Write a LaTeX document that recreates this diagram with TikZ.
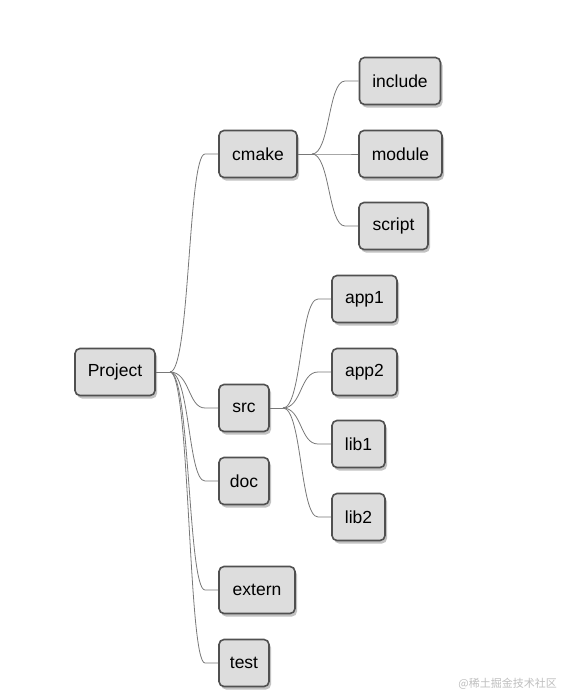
\documentclass[tikz,border=0pt]{standalone}
\usepackage{fontspec}
\setmainfont{Liberation Sans}
\newfontfamily\cjk{Noto Sans CJK SC}
\usetikzlibrary{shadows}
\definecolor{boxfill}{RGB}{221,221,221}
\definecolor{boxline}{RGB}{80,80,80}
\definecolor{edgecol}{RGB}{120,120,120}
\definecolor{wmcol}{RGB}{190,190,190}
\begin{document}
\begin{tikzpicture}[x=1pt,y=-1pt,
  tbox/.style={draw=boxline, line width=1.6pt, fill=boxfill, rounded corners=5pt,
    minimum height=47pt, inner xsep=0pt, inner ysep=0pt, font=\fontsize{17.5}{19}\selectfont,
    drop shadow={shadow xshift=2pt, shadow yshift=-3pt, opacity=0.4, fill=black!60}},
  edge/.style={draw=edgecol, line width=0.8pt}]
\useasboundingbox (0,0) rectangle (562,696);
% nodes
\node[tbox, minimum width=80pt] (project) at (115,372) {Project};
\node[tbox, minimum width=78pt] (cmake) at (258,154) {cmake};
\node[tbox, minimum width=81pt] (include) at (400,81) {include};
\node[tbox, minimum width=83pt] (module) at (400.5,154) {module};
\node[tbox, minimum width=69pt] (script) at (393.5,226) {script};
\node[tbox, minimum width=65pt] (app1) at (364.5,299) {app1};
\node[tbox, minimum width=65pt] (app2) at (364.5,372) {app2};
\node[tbox, minimum width=53pt] (lib1) at (358.5,444) {lib1};
\node[tbox, minimum width=53pt] (lib2) at (358.5,517) {lib2};
\node[tbox, minimum width=50pt] (src) at (244,408) {src};
\node[tbox, minimum width=50pt] (doc) at (244,481) {doc};
\node[tbox, minimum width=76pt] (extern) at (257,590) {extern};
\node[tbox, minimum width=50pt] (test) at (244,663) {test};
% branch points
\coordinate (pj) at (170,372);
\coordinate (cm) at (312,154);
\coordinate (sr) at (283,408);
% edges from Project
\draw[edge] (project.east) -- (pj);
\foreach \c/\y in {cmake/154, src/408, doc/481, extern/590, test/663}{
  \draw[edge] (pj) .. controls (190,372) and (188,\y) .. (205,\y) -- (\c.west);
}
% edges from cmake
\draw[edge] (cmake.east) -- (cm);
\foreach \c/\y in {include/81, module/154, script/226}{
  \draw[edge] (cm) .. controls (330,154) and (328,\y) .. (345,\y) -- (\c.west);
}
% edges from src
\draw[edge] (src.east) -- (sr);
\foreach \c/\y in {app1/299, app2/372, lib1/444, lib2/517}{
  \draw[edge] (sr) .. controls (302,408) and (300,\y) .. (318,\y) -- (\c.west);
}
% watermark
\node[text=wmcol, font=\cjk\fontsize{11}{12}\selectfont, anchor=east, inner sep=0pt] (wm) at (557,684) {@稀土掘金技术社区};
\end{tikzpicture}
\end{document}
